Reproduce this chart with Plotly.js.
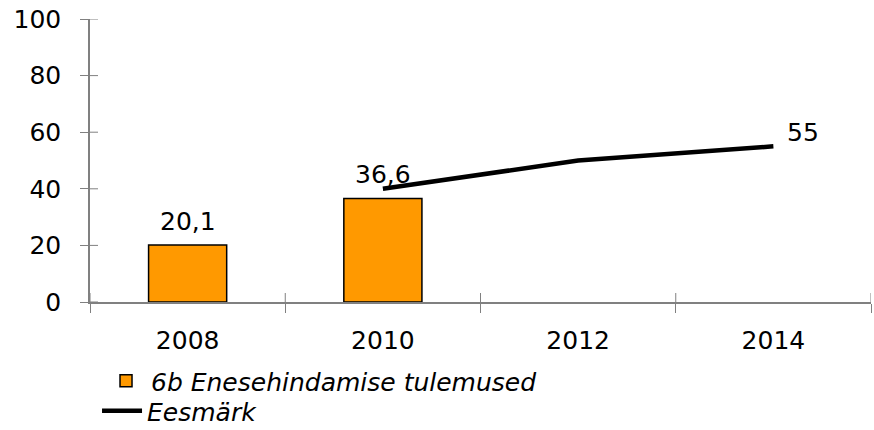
<!DOCTYPE html>
<html>
<head>
<meta charset="utf-8">
<script src="https://cdn.plot.ly/plotly-3.0.1.min.js"></script>
<style>html,body{margin:0;padding:0;background:#fff;}#chart{width:874px;height:430px;}</style>
</head>
<body>
<div id="chart"></div>
<script>
// Data
var categories = ['2008', '2010', '2012', '2014'];
var barYears = ['2008', '2010'];
var barValues = [20.1, 36.6];
var targetYears = ['2010', '2012', '2014'];
var targetValues = [40, 50, 55];
var yTicks = [0, 20, 40, 60, 80, 100];
var barName = '6b Enesehindamise tulemused';
var lineName = 'Eesmärk';

function fmt(v) { return String(v).replace('.', ','); }
function catIndex(c) { return categories.indexOf(c); }

var FONT = 'DejaVu Sans, Verdana, sans-serif';
var FS = 25;
var axisColor = '#808080';

var traces = [
  {
    type: 'bar', x: barYears, y: barValues, name: barName, legend: 'legend',
    marker: {color: '#FF9900', line: {color: '#000000', width: 1.5}},
    hoverinfo: 'skip'
  },
  {
    type: 'scatter', mode: 'lines', x: targetYears, y: targetValues, name: lineName, legend: 'legend2',
    line: {color: '#000000', width: 4.5}, hoverinfo: 'skip'
  }
];

var annotations = [];
barYears.forEach(function (c, i) {
  annotations.push({x: catIndex(c), y: barValues[i], xref: 'x', yref: 'y', text: fmt(barValues[i]),
    showarrow: false, yanchor: 'bottom', yshift: 7, font: {family: FONT, size: FS, color: '#000'}});
});
var last = targetValues.length - 1;
annotations.push({x: catIndex(targetYears[last]), y: targetValues[last], xref: 'x', yref: 'y', text: fmt(targetValues[last]),
  showarrow: false, xanchor: 'left', yanchor: 'bottom', xshift: 12, yshift: -3,
  font: {family: FONT, size: FS, color: '#000'}});

// inner halves of the crossing tick marks
var shapes = [];
for (var i = 0; i <= categories.length; i++) {
  shapes.push({type: 'line', xref: 'x', yref: 'y', ysizemode: 'pixel', yanchor: 0,
    x0: i - 0.5, x1: i - 0.5, y0: 0, y1: 9, line: {color: axisColor, width: 1}});
}
yTicks.forEach(function (t) {
  shapes.push({type: 'line', xref: 'x', yref: 'y', xsizemode: 'pixel', xanchor: -0.5,
    x0: 0, x1: 8, y0: t, y1: t, line: {color: axisColor, width: 1}});
});

var legendFont = {family: FONT, size: FS, color: '#000', style: 'italic'};
var layout = {
  width: 874, height: 430,
  margin: {l: 90, r: 3, t: 19, b: 128, pad: 0, autoexpand: false},
  paper_bgcolor: '#ffffff', plot_bgcolor: '#ffffff',
  font: {family: FONT, size: FS, color: '#000000'},
  bargap: 0.6,
  showlegend: true,
  legend: {orientation: 'v', x: 0.0141, xanchor: 'left', y: -0.198, yanchor: 'top',
    font: legendFont, itemwidth: 40, bgcolor: 'rgba(0,0,0,0)'},
  legend2: {orientation: 'v', x: 0.009, xanchor: 'left', y: -0.304, yanchor: 'top',
    font: legendFont, itemwidth: 40, bgcolor: 'rgba(0,0,0,0)'},
  xaxis: {
    type: 'category', categoryorder: 'array', categoryarray: categories,
    range: [-0.5, categories.length - 0.5], tickson: 'boundaries', ticks: 'outside', ticklen: 9, tickwidth: 1,
    tickcolor: axisColor, showline: true, linecolor: axisColor, linewidth: 1.5,
    showgrid: false, zeroline: false, ticklabelstandoff: 15,
    tickfont: {family: FONT, size: FS, color: '#000'}, fixedrange: true
  },
  yaxis: {
    range: [0, 100], tickmode: 'array', tickvals: yTicks, ticks: 'outside', ticklen: 8, tickwidth: 1,
    tickcolor: axisColor, showline: true, linecolor: axisColor, linewidth: 1.5,
    showgrid: false, zeroline: false, ticklabelstandoff: 14,
    tickfont: {family: FONT, size: FS, color: '#000'}, fixedrange: true
  },
  annotations: annotations,
  shapes: shapes
};

Plotly.newPlot('chart', traces, layout, {displayModeBar: false});
</script>
</body>
</html>
